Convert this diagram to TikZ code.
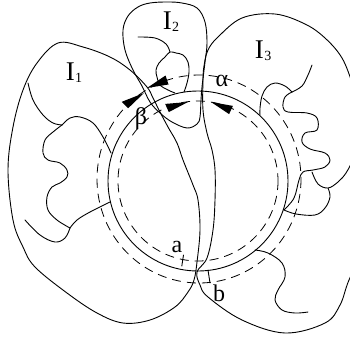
\documentclass[tikz,border=0pt]{standalone}
\usepackage{fontspec}
\setmainfont{Liberation Serif}
\begin{document}
\begin{tikzpicture}[x=1pt,y=-1pt,
  outline/.style={line width=0.9pt, line join=round, line cap=round},
  dashc/.style={line width=0.8pt, dash pattern=on 9pt off 6pt},
  lbl/.style={font=\fontsize{24}{24}\selectfont, inner sep=0pt},
  reg/.style={font=\fontsize{27}{27}\selectfont, inner sep=0pt},
  sm/.style={smooth, tension=0.6}]
\useasboundingbox (0,0) rectangle (350,338);

% circles
\draw[outline] (198,181) circle[radius=90];
\draw[dashc] (198,181) circle[radius=80];
\draw[dashc] (199,179) ellipse[x radius=102, y radius=104];

% I1 outline
\draw[outline] plot[smooth cycle, tension=0.6] coordinates {(147,87) (130,70) (110,57) (83,47) (58,43) (37,63) (23,90) (13,127) (8,170) (13,220) (23,247) (35,267) (67,293) (97,313) (123,323) (150,320) (175,307) (188,292) (194,280) (197,262) (200,230) (198,200) (193,185) (183,160) (177,143) (168,127) (160,112) (153,98)};

% I2 outline
\draw[outline] plot[smooth cycle, tension=0.6] coordinates {(200,117) (201,100) (202,87) (205,62) (207,43) (205,22) (197,8) (182,3) (167,2) (150,3) (138,7) (128,16) (123,30) (125,50) (133,70) (142,86) (150,102) (160,113) (172,122) (187,128) (197,124)};

% I3 outline
\draw[outline] plot[sm] coordinates {(366,245) (349,280) (340,305) (325,323) (285,333) (242,320) (208,297) (200,285) (197,272) (207,258) (213,230) (215,200) (215,170) (212,150) (207,133) (203,110) (203,80) (204,66) (208,50) (218,37) (242,18) (275,14) (305,24) (325,38) (342,58) (353,85) (362,110)};
\draw[outline] plot[sm] coordinates {(312,172) (318,184) (328,188) (338,182) (346,173) (353,160)};

% I1 wiggle
\draw[outline] plot[sm] coordinates {(28,83) (33,100) (43,115) (53,123) (62,125)};
\draw[outline] plot[sm] coordinates {(62,125) (70,118) (80,117) (93,123) (103,137) (111,153)};
\draw[outline] plot[sm] coordinates {(62,125) (53,132) (45,140) (43,153) (48,160) (60,163) (67,170) (67,177) (60,183) (52,187) (47,197) (48,210) (57,220) (70,228)};
\draw[outline] plot[sm] coordinates {(70,228) (77,220) (90,212) (110,202)};
\draw[outline] plot[sm] coordinates {(70,228) (65,238) (55,242) (40,235) (25,220)};

% I2 wiggle
\draw[outline] plot[sm] coordinates {(138,37) (155,38) (166,44) (170,52)};
\draw[outline] plot[sm] coordinates {(175,93) (168,90) (160,85) (157,77) (156,70) (159,63) (165,57) (170,52) (176,53) (183,55) (188,62) (189,72) (187,83) (184,92)};

% I3 wiggles
\draw[outline] plot[sm] coordinates {(312,65) (308,75) (302,86) (292,92)};
\draw[outline] plot[sm] coordinates {(292,92) (285,86) (275,83) (267,87) (262,96) (260,108) (260,115)};
\draw[outline] plot[sm] coordinates {(292,92) (285,97) (283,107) (288,112) (307,113) (317,118) (317,130) (305,133) (302,142) (310,149) (325,153) (330,160) (325,167) (313,170) (303,172) (299,180) (294,198) (284,210)};
\draw[outline] plot[sm] coordinates {(284,210) (296,214) (315,215) (325,208) (330,197) (328,188)};
\draw[outline] plot[sm] coordinates {(255,250) (268,253) (282,263) (285,277) (278,290) (275,300) (282,310) (295,313) (308,312)};

% ticks
\draw[outline] (183.5,255) -- (181.8,266);
\draw[outline] (208,270) -- (210,283);

% arrows
\fill (147,88) -- (165.5,75.5) -- (168.5,84.5) -- cycle;
\fill (144,93) -- (121.8,101.8) -- (128.2,108.2) -- cycle;
\fill (188,102) -- (165.2,103.9) -- (168.8,112.1) -- cycle;
\fill (211,102) -- (232.9,105.9) -- (229.1,114.1) -- cycle;

% labels
\node[reg] (l1) at (74,73) {I\kern0.5pt\raisebox{-2pt}{\fontsize{14}{14}\selectfont 1}};
\node[reg] (l2) at (171,22) {I\kern0.5pt\raisebox{-2pt}{\fontsize{14}{14}\selectfont 2}};
\node[reg] (l3) at (263,51) {I\kern0.5pt\raisebox{-2pt}{\fontsize{14}{14}\selectfont 3}};
\node[lbl] (al) at (222,81) {α};
\node[lbl] (be) at (141,119) {β};
\node[lbl] (la) at (177,247) {a};
\node[lbl] (lb) at (219,293) {b};
\end{tikzpicture}
\end{document}
